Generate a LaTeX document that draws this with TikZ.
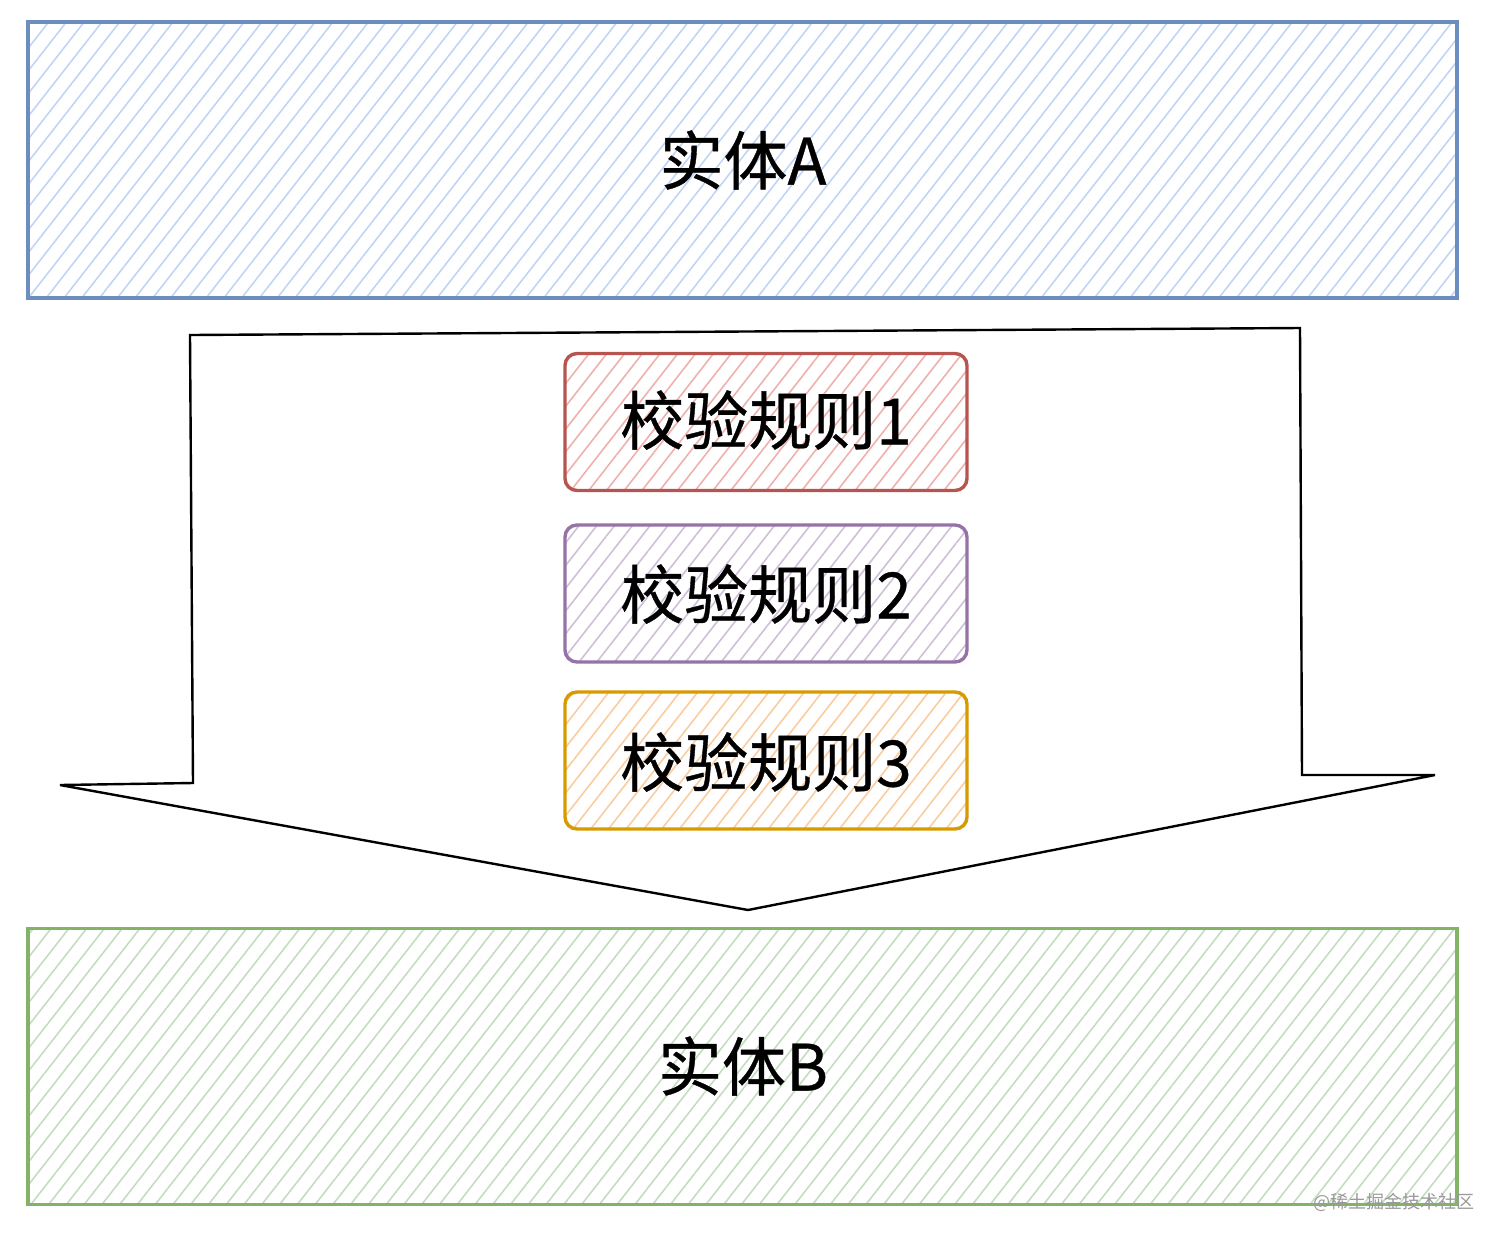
\documentclass[tikz,border=0pt]{standalone}
\usepackage{fontspec}
\setmainfont{Noto Sans CJK SC}
\newfontfamily\boldish{Noto Sans CJK SC}[FakeBold=0.6]
\usetikzlibrary{patterns.meta}
\definecolor{blueS}{HTML}{6C8EBF}\definecolor{blueF}{HTML}{C2D4F5}
\definecolor{greenS}{HTML}{82B366}\definecolor{greenF}{HTML}{C4DDC0}
\definecolor{redS}{HTML}{B85450}\definecolor{redF}{HTML}{F0B0AE}
\definecolor{purS}{HTML}{9673A6}\definecolor{purF}{HTML}{CFC0D8}
\definecolor{oraS}{HTML}{D79B00}\definecolor{oraF}{HTML}{FACDA0}
\tikzset{
  hatch/.style={pattern={Lines[angle=52,distance=7pt,line width=0.8pt]}, pattern color=#1},
  entity/.style={draw=#1S, line width=1.7pt, minimum width=714.5pt, minimum height=138pt,
    hatch=#1F, inner sep=0pt},
  rulebox/.style={draw=#1S, line width=1.7pt, rounded corners=6pt, minimum width=201pt, minimum height=68.5pt,
    hatch=#1F, inner sep=0pt},
  label/.style={font=\boldish\fontsize{32}{36}\selectfont, inner sep=0pt},
}
\begin{document}
\begin{tikzpicture}[x=0.5pt,y=-0.5pt]
\useasboundingbox (0,0) rectangle (1512,1244);
\node[entity=blue] (A) at (742.5,160) {};
\node[label] (tA) at (743,160) {实体A};
\node[entity=green] (B) at (742.5,1066.5) {};
\node[label] (tB) at (743,1066) {实体B};
\draw[line width=1.2pt, fill=white] (190,335) -- (1300,328) -- (1302,775) -- (1435,775) -- (748,910) -- (60,785) -- (193,783) -- cycle;
\node[rulebox=red] (r1) at (766,422) {};
\node[label] (t1) at (766,420) {校验规则1};
\node[rulebox=pur] (r2) at (766,593.5) {};
\node[label] (t2) at (766,594) {校验规则2};
\node[rulebox=ora] (r3) at (766,760.5) {};
\node[label] (t3) at (766,762) {校验规则3};
\node[text=black!40, font=\fontsize{9}{10}\selectfont, anchor=east] (wm) at (1482,1202) {@稀土掘金技术社区};
\end{tikzpicture}
\end{document}
